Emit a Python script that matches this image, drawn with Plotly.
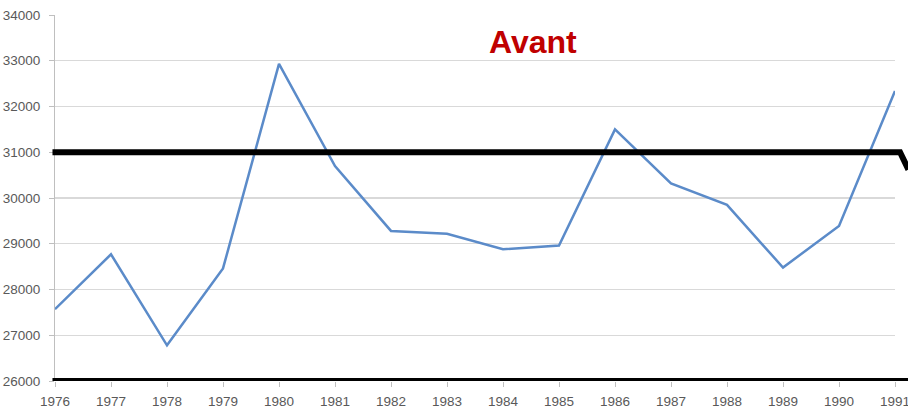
import plotly.graph_objects as go

years = list(range(1976, 1992))
values = [27570, 28770, 26780, 28460, 32930, 30700, 29280, 29220,
          28880, 28960, 31500, 30320, 29850, 28480, 29390, 32340]
y_ticks = [26000, 27000, 28000, 29000, 30000, 31000, 32000, 33000, 34000]
y_tick_labels = [str(v) for v in y_ticks]
title_text = "Avant"
threshold = 31000
baseline = 26000

fig = go.Figure()
fig.add_trace(go.Scatter(x=years, y=values, mode="lines",
                         line=dict(color="#5B8BC9", width=2.5),
                         showlegend=False, hoverinfo="skip", cliponaxis=False))

# thick black reference lines
fig.add_shape(type="path",
              path=f"M -0.003,{threshold} L 1.006,{threshold} L 1.016,30620",
              xref="paper", yref="y",
              line=dict(color="black", width=6))
fig.add_shape(type="line", x0=-0.003, x1=1.02, y0=baseline, y1=baseline,
              xref="paper", yref="y", line=dict(color="black", width=6))

fig.add_annotation(text="<b>" + title_text + "</b>", xref="x", yref="y",
                   x=1984.54, y=33410, showarrow=False,
                   font=dict(family="Liberation Sans, Arial", size=32, color="#C00000"))

fig.update_layout(
    width=908, height=408,
    margin=dict(l=55, r=13, t=15, b=27, autoexpand=False),
    paper_bgcolor="white", plot_bgcolor="white",
    font=dict(family="Liberation Sans, Arial", size=13.5, color="#595959"),
)
fig.update_xaxes(range=[1976, 1991], tickmode="array", tickvals=years,
                 ticktext=[str(y) for y in years], automargin=False,
                 ticklabeloverflow="allow",
                 showgrid=False, zeroline=False, showline=False,
                 ticks="outside", ticklen=5, tickcolor="#BFBFBF", tickwidth=1,
                 ticklabelstandoff=3)
fig.update_yaxes(range=[26000, 34000], tickmode="array", tickvals=y_ticks,
                 ticktext=y_tick_labels, automargin=False,
                 ticklabeloverflow="allow",
                 showgrid=True, gridcolor="#D9D9D9", gridwidth=1.3,
                 zeroline=False, showline=True, linecolor="#BFBFBF", linewidth=1,
                 ticks="outside", ticklen=5, tickcolor="#BFBFBF",
                 ticklabelstandoff=6)

fig.write_html("out.html", config={"displayModeBar": False, "staticPlot": True},
               post_script="document.body.style.margin='0';document.body.style.overflow='hidden';")
